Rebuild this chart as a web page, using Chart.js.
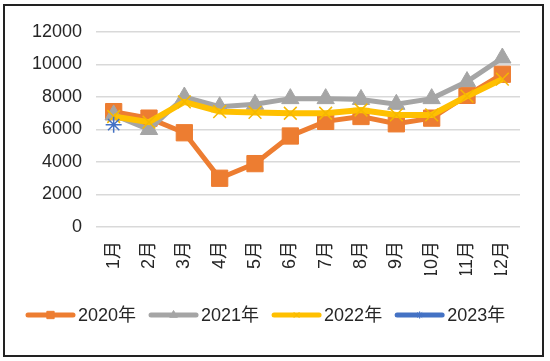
<!DOCTYPE html>
<html>
<head>
<meta charset="utf-8">
<script src="https://cdn.jsdelivr.net/npm/chart.js@4"></script>
<style>
  html, body { margin: 0; padding: 0; background: #fff; }
  #frame {
    position: absolute; left: 3px; top: 4px;
    width: 541px; height: 353px;
    box-sizing: border-box;
    border: 2px solid #222;
    background: #fff;
  }
  #chart { display: block; }
</style>
</head>
<body>
<div id="frame"><canvas id="chart" width="537" height="349"></canvas></div>
<script>
// 카테고리 / 시리즈 데이터
const months = ['1月', '2月', '3月', '4月', '5月', '6月', '7月', '8月', '9月', '10月', '11月', '12月'];
const seriesNames = ['2020年', '2021年', '2022年', '2023年'];
const v2020 = [7100, 6700, 5800, 3000, 3900, 5600, 6500, 6800, 6350, 6700, 8100, 9400];
const v2021 = [6900, 6000, 8000, 7400, 7550, 7900, 7900, 7850, 7550, 7900, 8950, 10400];
const v2022 = [6800, 6450, 7700, 7100, 7050, 7000, 7000, 7200, 6900, 6900, 8050, 9100];
const v2023 = [6300, null, null, null, null, null, null, null, null, null, null, null];
const yTicks = [0, 2000, 4000, 6000, 8000, 10000, 12000];

const FONT = '"Liberation Sans", Arial, "Noto Sans CJK SC", sans-serif';

const styles = [
  { color: '#ED7D31', point: 'rect', radius: 11.5, width: 5, pointBorder: '#ED7D31', pointBorderWidth: 1 },
  { color: '#A5A5A5', point: 'triangle', radius: 10, width: 5, pointBorder: '#A5A5A5', pointBorderWidth: 1 },
  { color: '#FFC000', point: 'crossRot', radius: 9, width: 6, pointBorder: '#F5B800', pointBorderWidth: 1.5 },
  { color: '#4472C4', point: 'star', radius: 8, width: 5, pointBorder: '#4472C4', pointBorderWidth: 1.5 }
];

const allValues = [v2020, v2021, v2022, v2023];

// 엑셀 스타일 범례 (선 + 작은 마커)
const excelLegend = {
  id: 'excelLegend',
  afterDraw(chart) {
    const ctx = chart.ctx;
    ctx.save();
    ctx.font = '18px ' + FONT;
    ctx.textBaseline = 'middle';
    ctx.textAlign = 'left';
    const y = 309;
    let x = 21;
    chart.data.datasets.forEach((ds, i) => {
      const s = styles[i];
      ctx.strokeStyle = s.color;
      ctx.lineWidth = 5;
      ctx.lineCap = 'round';
      ctx.beginPath();
      ctx.moveTo(x + 2, y);
      ctx.lineTo(x + 47, y);
      ctx.stroke();
      ctx.lineCap = 'butt';
      ctx.fillStyle = s.color;
      ctx.strokeStyle = s.pointBorder;
      ctx.lineWidth = 1;
      Chart.helpers.drawPoint(ctx, {
        pointStyle: s.point, radius: s.radius * 0.45, borderWidth: 1
      }, x + 24.5, y);
      ctx.fillStyle = '#262626';
      ctx.fillText(ds.label, x + 52, y + 1);
      x += 52 + ctx.measureText(ds.label).width + 13;
    });
    ctx.restore();
  }
};

const datasets = allValues.map((vals, i) => {
  const s = styles[i];
  return {
    label: seriesNames[i],
    data: vals,
    borderColor: s.color,
    backgroundColor: s.color,
    borderWidth: s.width,
    pointStyle: s.point,
    pointRadius: s.radius,
    pointBorderColor: s.pointBorder,
    pointBackgroundColor: s.color,
    pointBorderWidth: s.pointBorderWidth,
    tension: 0,
    spanGaps: false,
    order: 4 - i,
    clip: false
  };
});

new Chart(document.getElementById('chart'), {
  type: 'line',
  data: { labels: months, datasets },
  plugins: [excelLegend],
  options: {
    responsive: false,
    animation: false,
    layout: { padding: { top: 26, right: 22, left: 0, bottom: 80 } },
    plugins: {
      legend: { display: false },
      tooltip: { enabled: false }
    },
    scales: {
      x: {
        offset: true,
        afterFit(scale) { scale.height = 48; },
        grid: { display: false },
        border: { display: false },
        ticks: {
          minRotation: 90,
          maxRotation: 90,
          autoSkip: false,
          padding: 6,
          color: '#262626',
          font: { size: 18, family: FONT }
        }
      },
      y: {
        min: 0,
        max: 12000,
        afterFit(scale) { scale.width = 91; },
        afterBuildTicks(scale) { scale.ticks = yTicks.map(v => ({ value: v })); },
        border: { display: false },
        grid: { color: '#D9D9D9', lineWidth: 1.5, drawTicks: false },
        ticks: {
          padding: 14,
          color: '#262626',
          font: { size: 18, family: FONT },
          callback: (v) => String(v)
        }
      }
    }
  }
});
</script>
</body>
</html>
